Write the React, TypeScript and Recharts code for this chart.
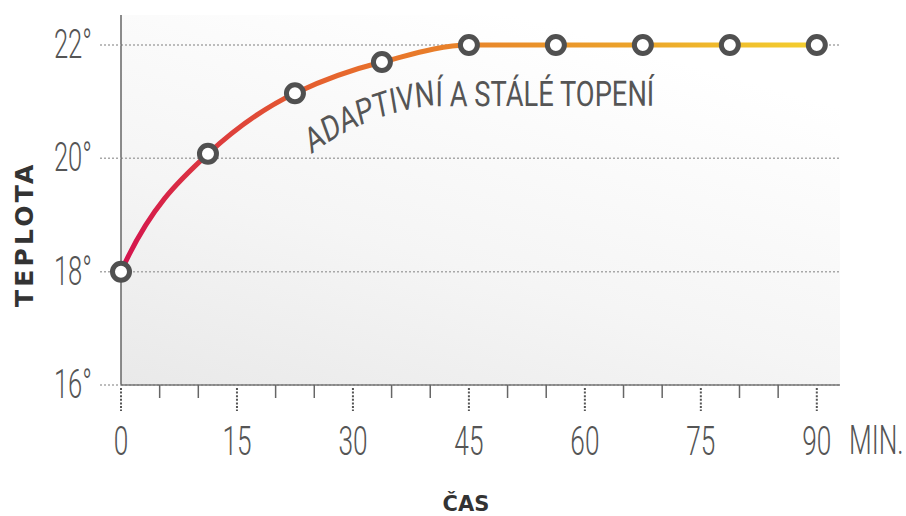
import React from 'react';
import { LineChart, Line, XAxis, YAxis, CartesianGrid, Customized } from 'recharts';

// ---- data ----
const minutes = [0, 11.25, 22.5, 33.75, 45, 56.25, 67.5, 78.75, 90];
const temperatures = [18, 20.08, 21.15, 21.7, 22, 22, 22, 22, 22];
const xTicks = [0, 5, 10, 15, 20, 25, 30, 35, 40, 45, 50, 55, 60, 65, 70, 75, 80, 85, 90];
const xMajorTicks = [0, 15, 30, 45, 60, 75, 90];
const xMajorLabels = ['0', '15', '30', '45', '60', '75', '90'];
const yTicks = [16, 18, 20, 22];
const yTickLabels = ['16°', '18°', '20°', '22°'];
const xUnit = 'MIN.';
const xTitle = 'ČAS';
const yTitle = 'TEPLOTA';
const annotation = 'ADAPTIVNÍ A STÁLÉ TOPENÍ';

const data = minutes.map((m, i) => ({ min: m, temp: temperatures[i] }));

// ---- layout ----
const W = 906;
const H = 516;
const PLOT_LEFT = 121;
const PLOT_RIGHT = 840;
const PLOT_TOP = 15;
const PLOT_BOTTOM = 385;
const X_DOMAIN: [number, number] = [0, 93];
const Y_DOMAIN: [number, number] = [16, 22.53];

const xPx = (v: number) =>
  PLOT_LEFT + ((v - X_DOMAIN[0]) / (X_DOMAIN[1] - X_DOMAIN[0])) * (PLOT_RIGHT - PLOT_LEFT);
const yPx = (v: number) =>
  PLOT_BOTTOM - ((v - Y_DOMAIN[0]) / (Y_DOMAIN[1] - Y_DOMAIN[0])) * (PLOT_BOTTOM - PLOT_TOP);

const NUM_FONT = "Roboto, 'DejaVu Sans', sans-serif";
const BOLD_FONT = "'DejaVu Sans', 'Liberation Sans', sans-serif";

// Smooth cubic Hermite curve: harmonic-mean tangents inside,
// endpoint tangents chosen so the end segments have zero curvature at the inner knot.
function smoothCurve(context: any) {
  let xs: number[] = [];
  let ys: number[] = [];
  const clamp = (t: number, s: number) => {
    if (t * s <= 0) return 0;
    if (Math.abs(t) > 3 * Math.abs(s)) return 3 * s;
    return t;
  };
  return {
    areaStart() {},
    areaEnd() {},
    lineStart() {
      xs = [];
      ys = [];
    },
    point(x: number, y: number) {
      xs.push(+x);
      ys.push(+y);
    },
    lineEnd() {
      const n = xs.length;
      if (n === 0) return;
      context.moveTo(xs[0], ys[0]);
      if (n === 1) return;
      const s: number[] = [];
      for (let i = 0; i < n - 1; i++) s.push((ys[i + 1] - ys[i]) / (xs[i + 1] - xs[i]));
      const t: number[] = new Array(n).fill(0);
      if (n === 2) {
        t[0] = s[0];
        t[1] = s[0];
      } else {
        for (let i = 1; i < n - 1; i++) {
          const a = s[i - 1];
          const b = s[i];
          t[i] = a * b > 0 ? (2 * a * b) / (a + b) : 0;
        }
        t[0] = clamp(3 * s[0] - 2 * t[1], s[0]);
        t[n - 1] = clamp(3 * s[n - 2] - 2 * t[n - 2], s[n - 2]);
      }
      for (let i = 0; i < n - 1; i++) {
        const h = xs[i + 1] - xs[i];
        context.bezierCurveTo(
          xs[i] + h / 3,
          ys[i] + (t[i] * h) / 3,
          xs[i + 1] - h / 3,
          ys[i + 1] - (t[i + 1] * h) / 3,
          xs[i + 1],
          ys[i + 1]
        );
      }
    },
  };
}

function XTick(props: any) {
  const { x, y, payload } = props;
  const v = payload.value as number;
  const idx = xMajorTicks.indexOf(v);
  const major = idx >= 0;
  return (
    <g>
      {major ? (
        <line x1={x} x2={x} y1={y + 3} y2={y + 26} stroke="#555" strokeWidth={2} strokeDasharray="2 1.6" />
      ) : (
        <line x1={x} x2={x} y1={y} y2={y + 13} stroke="#666" strokeWidth={1.5} />
      )}
      {major && (
        <text
          transform={`translate(${x},${y + 70}) scale(0.64,1)`}
          textAnchor="middle"
          fontFamily={NUM_FONT}
          fontWeight={300}
          fontSize={41}
          fill="#555"
        >
          {xMajorLabels[idx]}
        </text>
      )}
    </g>
  );
}

function YTick(props: any) {
  const { x, y, payload } = props;
  const idx = yTicks.indexOf(payload.value);
  return (
    <text
      transform={`translate(${x},${y + 13}) scale(0.64,1)`}
      textAnchor="end"
      fontFamily={NUM_FONT}
      fontWeight={300}
      fontSize={40}
      fill="#555"
    >
      {yTickLabels[idx]}
    </text>
  );
}

function Decorations() {
  const s = 0.78;
  const p0 = { x: xPx(24.6), y: yPx(20.07) };
  const c = { x: xPx(31.2), y: yPx(20.75) };
  const p1 = { x: xPx(39.5), y: yPx(20.92) };
  const p2 = { x: xPx(78), y: yPx(20.93) };
  const d = `M ${p0.x / s} ${p0.y} Q ${c.x / s} ${c.y} ${p1.x / s} ${p1.y} L ${p2.x / s} ${p2.y}`;
  return (
    <g>
      <g transform={`scale(${s},1)`}>
        <path id="annoPath" d={d} fill="none" stroke="none" />
        <text fontFamily={NUM_FONT} fontWeight={400} fontSize={35} fill="#555">
          <textPath href="#annoPath">{annotation}</textPath>
        </text>
      </g>
      <text
        transform={`translate(33,${yPx(18.66)}) rotate(-90)`}
        textAnchor="middle"
        fontFamily={BOLD_FONT}
        fontWeight={700}
        fontSize={25}
        letterSpacing={3.2}
        fill="#333"
      >
        {yTitle}
      </text>
      <text
        x={466}
        y={511}
        textAnchor="middle"
        fontFamily={BOLD_FONT}
        fontWeight={700}
        fontSize={21}
        fill="#333"
      >
        {xTitle}
      </text>
      <text
        transform={`translate(849,454) scale(0.64,1)`}
        textAnchor="start"
        fontFamily={NUM_FONT}
        fontWeight={300}
        fontSize={41}
        fill="#555"
      >
        {xUnit}
      </text>
    </g>
  );
}

function Dot(props: any) {
  const { cx, cy, index } = props;
  return <circle key={`dot-${index}`} cx={cx} cy={cy} r={8.5} fill="#fff" stroke="#505050" strokeWidth={5} />;
}

export default function App() {
  return (
    <div style={{ position: 'absolute', left: 0, top: 0, width: W, height: H, background: '#fff' }}>
      <LineChart
        width={W}
        height={H}
        data={data}
        margin={{ top: PLOT_TOP, right: W - PLOT_RIGHT, bottom: 0, left: 0 }}
      >
        <defs>
          <linearGradient id="bgGrad" x1="0" y1="1" x2="0.55" y2="0">
            <stop offset="0" stopColor="#e9e9e9" />
            <stop offset="0.45" stopColor="#f5f5f5" />
            <stop offset="1" stopColor="#ffffff" />
          </linearGradient>
          <linearGradient id="lineGrad" x1="0" y1="0" x2="1" y2="0">
            <stop offset="0" stopColor="#d4134f" />
            <stop offset="0.125" stopColor="#dc383f" />
            <stop offset="0.25" stopColor="#e45a30" />
            <stop offset="0.375" stopColor="#e8732b" />
            <stop offset="0.5" stopColor="#e8852a" />
            <stop offset="0.625" stopColor="#ea952a" />
            <stop offset="0.75" stopColor="#eca52a" />
            <stop offset="0.875" stopColor="#f0bd2c" />
            <stop offset="1" stopColor="#f4cf2f" />
          </linearGradient>
        </defs>
        <CartesianGrid
          vertical={false}
          horizontalPoints={yTicks.map(yPx)}
          stroke="#a8a8a8"
          strokeWidth={1.5}
          strokeDasharray="2 2"
          fill="url(#bgGrad)"
          fillOpacity={1}
        />
        <XAxis
          dataKey="min"
          type="number"
          domain={X_DOMAIN}
          ticks={xTicks}
          interval={0}
          height={H - PLOT_BOTTOM}
          axisLine={{ stroke: '#777', strokeWidth: 1.5 }}
          tickLine={false}
          tickSize={0}
          tickMargin={0}
          tick={<XTick />}
        />
        <YAxis
          type="number"
          domain={Y_DOMAIN}
          ticks={yTicks}
          interval={0}
          width={PLOT_LEFT}
          axisLine={{ stroke: '#666', strokeWidth: 1.5 }}
          tickLine={{ stroke: '#a8a8a8', strokeWidth: 1.5, strokeDasharray: '2 2' }}
          tickSize={21}
          tickMargin={8}
          tick={<YTick />}
        />
        <Line
          type={smoothCurve as any}
          dataKey="temp"
          stroke="url(#lineGrad)"
          strokeWidth={5}
          dot={Dot}
          activeDot={false}
          isAnimationActive={false}
        />
        <Customized component={Decorations} />
      </LineChart>
    </div>
  );
}
